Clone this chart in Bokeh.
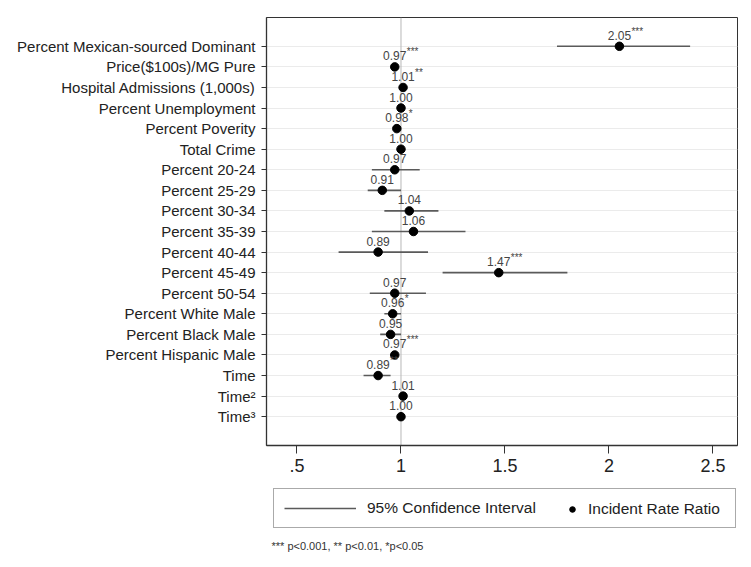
from bokeh.plotting import figure
from bokeh.layouts import column
from bokeh.models import (Range1d, FixedTicker, Span, Legend, LegendItem, Label,
                          ColumnDataSource)
from bokeh.core.properties import value
from bokeh.embed import file_html
from bokeh.resources import INLINE

# ---------------- data ----------------
variables = [
    "Percent Mexican-sourced Dominant",
    "Price($100s)/MG Pure",
    "Hospital Admissions (1,000s)",
    "Percent Unemployment",
    "Percent Poverity",
    "Total Crime",
    "Percent 20-24",
    "Percent 25-29",
    "Percent 30-34",
    "Percent 35-39",
    "Percent 40-44",
    "Percent 45-49",
    "Percent 50-54",
    "Percent White Male",
    "Percent Black Male",
    "Percent Hispanic Male",
    "Time",
    "Time\u00b2",
    "Time\u00b3",
]
irr = [2.05, 0.97, 1.01, 1.00, 0.98, 1.00, 0.97, 0.91, 1.04, 1.06, 0.89, 1.47,
       0.97, 0.96, 0.95, 0.97, 0.89, 1.01, 1.00]
ci_low = [1.75, 0.96, 1.00, 0.99, 0.97, 0.995, 0.86, 0.84, 0.92, 0.86, 0.70, 1.20,
          0.85, 0.92, 0.90, 0.96, 0.82, 1.00, 0.995]
ci_high = [2.39, 0.98, 1.02, 1.01, 0.99, 1.005, 1.09, 1.00, 1.18, 1.31, 1.13, 1.80,
           1.12, 1.00, 1.00, 0.98, 0.95, 1.02, 1.005]
stars = ["***", "***", "**", "", "*", "", "", "", "", "", "", "***",
         "", "*", "", "***", "**", "", ""]
x_ticks = [0.5, 1, 1.5, 2, 2.5]
x_tick_labels = [".5", "1", "1.5", "2", "2.5"]
ref_value = 1
legend_ci = "95% Confidence Interval"
legend_irr = "Incident Rate Ratio"
footnote = "*** p<0.001, ** p<0.01, *p<0.05"

FONT = "Liberation Sans"
CI_COLOR = "#5a5a5a"
DOT_COLOR = "black"

rows = list(range(len(variables)))
src = ColumnDataSource(dict(
    y=rows, irr=irr, lo=ci_low, hi=ci_high,
    lab=[f"{v:.2f}" for v in irr], stars=stars,
))

# ---------------- main plot ----------------
p = figure(width=745, height=482, output_backend="svg", toolbar_location=None,
           x_range=Range1d(0.3534, 2.6178),
           y_range=Range1d(len(variables) - 1 + 1.4, -1.4),
           min_border_left=266, min_border_right=8, min_border_top=17,
           min_border_bottom=37)

p.background_fill_color = "white"
p.border_fill_color = "white"
p.outline_line_color = "#333333"
p.outline_line_width = 1

p.xaxis.ticker = FixedTicker(ticks=x_ticks)
p.xaxis.major_label_overrides = dict(zip(x_ticks, x_tick_labels))
p.xaxis.major_tick_out = 8
p.xaxis.major_tick_in = 0
p.xaxis.minor_tick_line_color = None
p.xaxis.major_label_standoff = 5
p.xaxis.major_label_text_font = FONT
p.xaxis.major_label_text_font_size = "18px"
p.xaxis.major_label_text_color = "#222222"
p.xaxis.axis_line_color = "#333333"
p.xaxis.axis_line_width = 1.3
p.xaxis.major_tick_line_color = "#333333"

p.yaxis.ticker = FixedTicker(ticks=rows)
p.yaxis.major_label_overrides = {i: v for i, v in zip(rows, variables)}
p.yaxis.major_tick_out = 5
p.yaxis.major_tick_in = 0
p.yaxis.minor_tick_line_color = None
p.yaxis.major_label_standoff = 6
p.yaxis.major_label_text_font = FONT
p.yaxis.major_label_text_font_size = "15px"
p.yaxis.major_label_text_color = "#222222"
p.yaxis.axis_line_color = "#333333"
p.yaxis.axis_line_width = 1.3
p.yaxis.major_tick_line_color = "#333333"

p.xgrid.visible = False
p.ygrid.grid_line_color = "#ebebeb"
p.ygrid.grid_line_width = 1

p.add_layout(Span(location=ref_value, dimension="height", line_color="#b8b8b8",
                  line_width=1, level="underlay"))

p.segment(x0="lo", x1="hi", y0="y", y1="y", source=src,
          line_color=CI_COLOR, line_width=1.6)
p.scatter(x="irr", y="y", source=src, size=8.5, color=DOT_COLOR)

p.text(x="irr", y="y", text="lab", source=src, y_offset=-11,
       text_align="center", text_baseline="middle", text_font_size="12px",
       text_color="#444444", text_font=value(FONT))
p.text(x="irr", y="y", text="stars", source=src, x_offset=12, y_offset=-15,
       text_align="left", text_baseline="middle", text_font_size="10px",
       text_color="#444444", text_font=value(FONT))

# ---------------- legend / note strip (frame aligned with main plot) ----------------
# The key renderers reuse the chart data; this strip's ranges keep them off-view,
# so only their legend swatches are drawn.
H2 = 85
q = figure(width=745, height=H2, output_backend="svg", toolbar_location=None,
           x_range=Range1d(10, 20), y_range=Range1d(100, 200),
           x_axis_location=None, y_axis_location=None,
           min_border=0)
q.grid.visible = False
q.outline_line_color = None
q.background_fill_color = "white"
q.border_fill_color = "white"

ci_key = q.line(x="irr", y="y", source=src, line_color=CI_COLOR, line_width=1.6)
dot_key = q.scatter(x="irr", y="y", source=src, size=8.5, color=DOT_COLOR)

legA = Legend(items=[LegendItem(label=legend_ci, renderers=[ci_key])],
              location=(7, 39), orientation="horizontal",
              glyph_width=72, glyph_height=18, label_standoff=11,
              label_width=358, padding=10, margin=0,
              border_line_color="#555555", border_line_width=1,
              label_text_font=FONT, label_text_font_size="15.5px",
              label_text_color="#222222", background_fill_color="white",
              background_fill_alpha=1)
legB = Legend(items=[LegendItem(label=legend_irr, renderers=[dot_key])],
              location=(299, 49), orientation="horizontal",
              glyph_width=14, glyph_height=18, label_standoff=9,
              padding=0, margin=0, border_line_color=None,
              background_fill_alpha=0,
              label_text_font=FONT, label_text_font_size="15.5px",
              label_text_color="#222222")
q.add_layout(legA)
q.add_layout(legB)

q.add_layout(Label(x=5, y=22, x_units="screen", y_units="screen",
                   text=footnote, text_font=FONT, text_font_size="11px",
                   text_baseline="middle", text_color="#333333"))

open("out.html", "w").write(file_html(column(p, q, spacing=0), INLINE))
